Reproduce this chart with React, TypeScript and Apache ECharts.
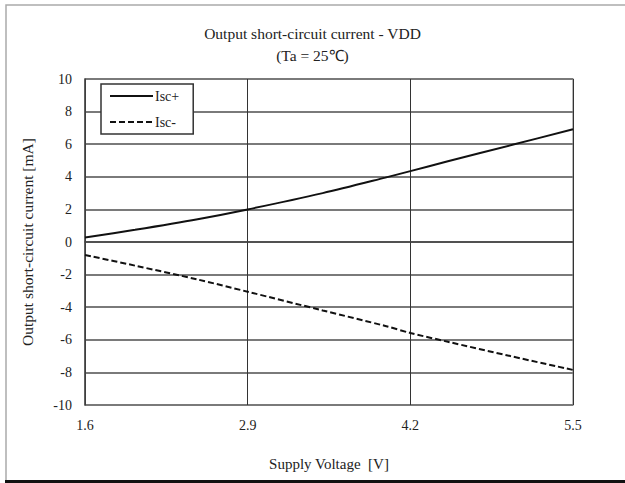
import React, { useEffect, useRef } from "react";
import * as echarts from "echarts";

// Supply voltage sample points [V]
const vdd = [1.6, 2.0, 2.5, 2.9, 3.5, 4.0, 4.2, 4.5, 5.0, 5.5];
// Output short-circuit current, source side [mA]
const iscPlus = [0.27, 0.75, 1.4, 2.0, 3.0, 3.95, 4.35, 4.95, 5.93, 6.92];
// Output short-circuit current, sink side [mA]
const iscMinus = [-0.8, -1.45, -2.3, -3.05, -4.2, -5.15, -5.58, -6.12, -7.0, -7.85];

const seriesNames = ["Isc+", "Isc-"];
const titleText = "Output short-circuit current - VDD";
const subtitleText = "(Ta = 25\u2103)";
const xName = "Supply Voltage  [V]";
const yName = "Output short-circuit current [mA]";

const FONT = "'Liberation Serif', 'Times New Roman', serif";

export default function App() {
  const ref = useRef<HTMLDivElement>(null);

  useEffect(() => {
    if (!ref.current) return;
    const chart = echarts.init(ref.current, undefined, { renderer: "svg" });
    const pairs = (ys: number[]) => vdd.map((x, i) => [x, ys[i]]);

    chart.setOption({
      animation: false,
      backgroundColor: "#ffffff",
      textStyle: { fontFamily: FONT },
      title: [
        {
          text: titleText,
          left: "center",
          top: 20,
          textStyle: { fontFamily: FONT, fontSize: 15.5, fontWeight: "normal", color: "#222" },
        },
        {
          text: subtitleText,
          left: "center",
          top: 42,
          textStyle: { fontFamily: FONT, fontSize: 15.5, fontWeight: "normal", color: "#222" },
        },
      ],
      legend: {
        orient: "vertical",
        left: 101,
        top: 84,
        padding: [5, 14, 5, 8],
        itemGap: 12,
        itemWidth: 43,
        itemHeight: 14,
        borderColor: "#333",
        borderWidth: 1.5,
        backgroundColor: "#fff",
        itemStyle: { opacity: 0 },
        textStyle: { fontFamily: FONT, fontSize: 14, color: "#222", padding: [0, 0, 0, -3] },
        data: seriesNames,
      },
      grid: {
        left: 85,
        right: 52,
        top: 79,
        bottom: 78,
        show: true,
        borderColor: "#a0a0a0",
        borderWidth: 1.5,
      },
      xAxis: {
        type: "value",
        min: 1.6,
        max: 5.5,
        interval: 1.3,
        name: xName,
        nameLocation: "middle",
        nameGap: 51,
        nameTextStyle: { fontFamily: FONT, fontSize: 15, color: "#222" },
        axisLine: { show: true, lineStyle: { color: "#444", width: 1.5 } },
        axisTick: { show: false },
        axisLabel: {
          margin: 13,
          fontFamily: FONT,
          fontSize: 14,
          color: "#222",
          formatter: (v: number) => v.toFixed(1),
        },
        splitLine: { show: true, lineStyle: { color: "#333", width: 1 } },
      },
      yAxis: {
        type: "value",
        min: -10,
        max: 10,
        interval: 2,
        name: yName,
        nameLocation: "middle",
        nameGap: 50,
        nameTextStyle: { fontFamily: FONT, fontSize: 15.5, color: "#222" },
        axisLine: { show: true, lineStyle: { color: "#444", width: 1.5 } },
        axisTick: { show: false },
        axisLabel: { margin: 13, fontFamily: FONT, fontSize: 14, color: "#222" },
        splitLine: { show: true, lineStyle: { color: "#7a7a7a", width: 2 } },
      },
      series: [
        {
          name: seriesNames[0],
          type: "line",
          data: pairs(iscPlus),
          smooth: 0.3,
          symbol: "none",
          lineStyle: { color: "#111", width: 2 },
          itemStyle: { color: "#111" },
        },
        {
          name: seriesNames[1],
          type: "line",
          data: pairs(iscMinus),
          smooth: 0.3,
          symbol: "none",
          lineStyle: { color: "#111", width: 2, type: [6, 3] },
          itemStyle: { color: "#111" },
        },
      ],
      graphic: [
        {
          type: "rect",
          silent: true,
          shape: { x: 6, y: 5, width: 640, height: 476 },
          style: { fill: "none", stroke: "#aaa", lineWidth: 1.5 },
        },
        {
          type: "rect",
          silent: true,
          shape: { x: 5, y: 480, width: 625, height: 3 },
          style: { fill: "#111" },
        },
      ],
    });

    return () => chart.dispose();
  }, []);

  return (
    <div
      ref={ref}
      style={{ position: "absolute", left: 0, top: 0, width: 625, height: 483 }}
    />
  );
}
